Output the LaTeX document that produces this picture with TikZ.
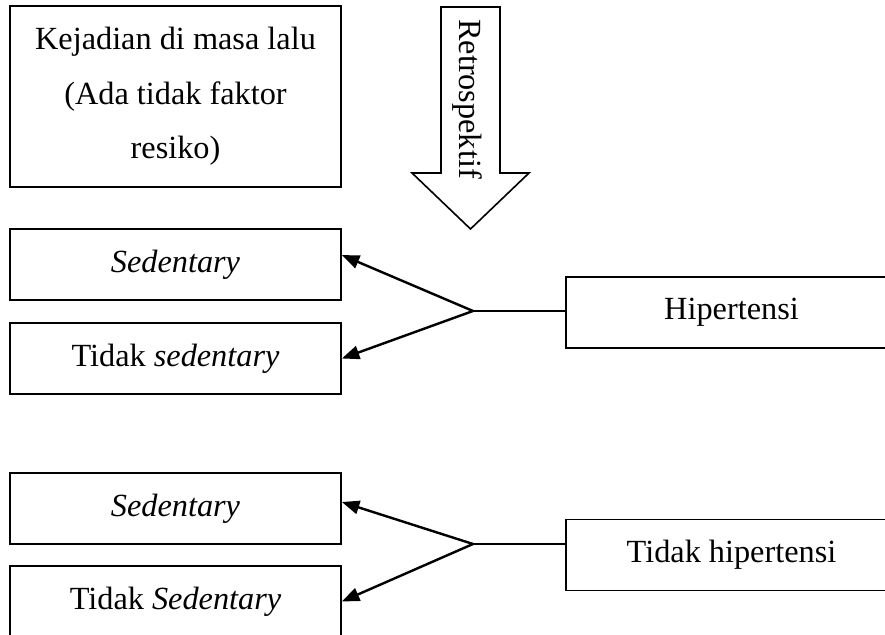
\documentclass[tikz,border=0pt]{standalone}
\usepackage{fontspec}
\setmainfont{Liberation Serif}
\usetikzlibrary{arrows.meta}
\begin{document}
\begin{tikzpicture}[x=0.3715pt,y=-0.3715pt,
  kotak/.style={draw,line width=0.6pt,minimum width=123pt,minimum height=26.4pt,inner sep=0pt,font=\fontsize{12}{20.25}\selectfont},
  panah/.style={line width=0.9pt,-{Triangle[length=6.5pt,width=5pt]}}]
  \useasboundingbox (0,0) rectangle (885,635);
  \node[kotak,minimum height=67.2pt,align=center] (lalu) at (175.5,96.5) {Kejadian di masa lalu\\(Ada tidak faktor\\resiko)};
  \draw[line width=0.6pt] (441,7) -- (500,7) -- (500,173) -- (529,173) -- (470.5,229) -- (412,173) -- (441,173) -- cycle;
  \node[rotate=-90,font=\fontsize{12}{14}\selectfont] (retro) at (467,99) {Retrospektif};
  \node[kotak] (sed1) at (175.5,264.5) {\textit{Sedentary}};
  \node[kotak] (tsed1) at (175.5,358.5) {Tidak \textit{sedentary}};
  \node[kotak] (hip) at (731.5,312.5) {Hipertensi};
  \node[kotak] (sed2) at (175.5,508.5) {\textit{Sedentary}};
  \node[kotak] (tsed2) at (175.5,601.5) {Tidak \textit{Sedentary}};
  \node[kotak] (thip) at (731.5,555) {Tidak hipertensi};
  \coordinate (cab1) at (473,311);
  \coordinate (cab2) at (473,544);
  \draw[line width=0.45pt] (cab1 -| hip.west) -- (cab1);
  \draw[panah] (cab1) -- ([yshift=3.5pt]sed1.east);
  \draw[panah] (cab1) -- (tsed1.east);
  \draw[line width=0.45pt] (cab2 -| thip.west) -- (cab2);
  \draw[panah] (cab2) -- ([yshift=2.4pt]sed2.east);
  \draw[panah] (cab2) -- (tsed2.east);
\end{tikzpicture}
\end{document}
